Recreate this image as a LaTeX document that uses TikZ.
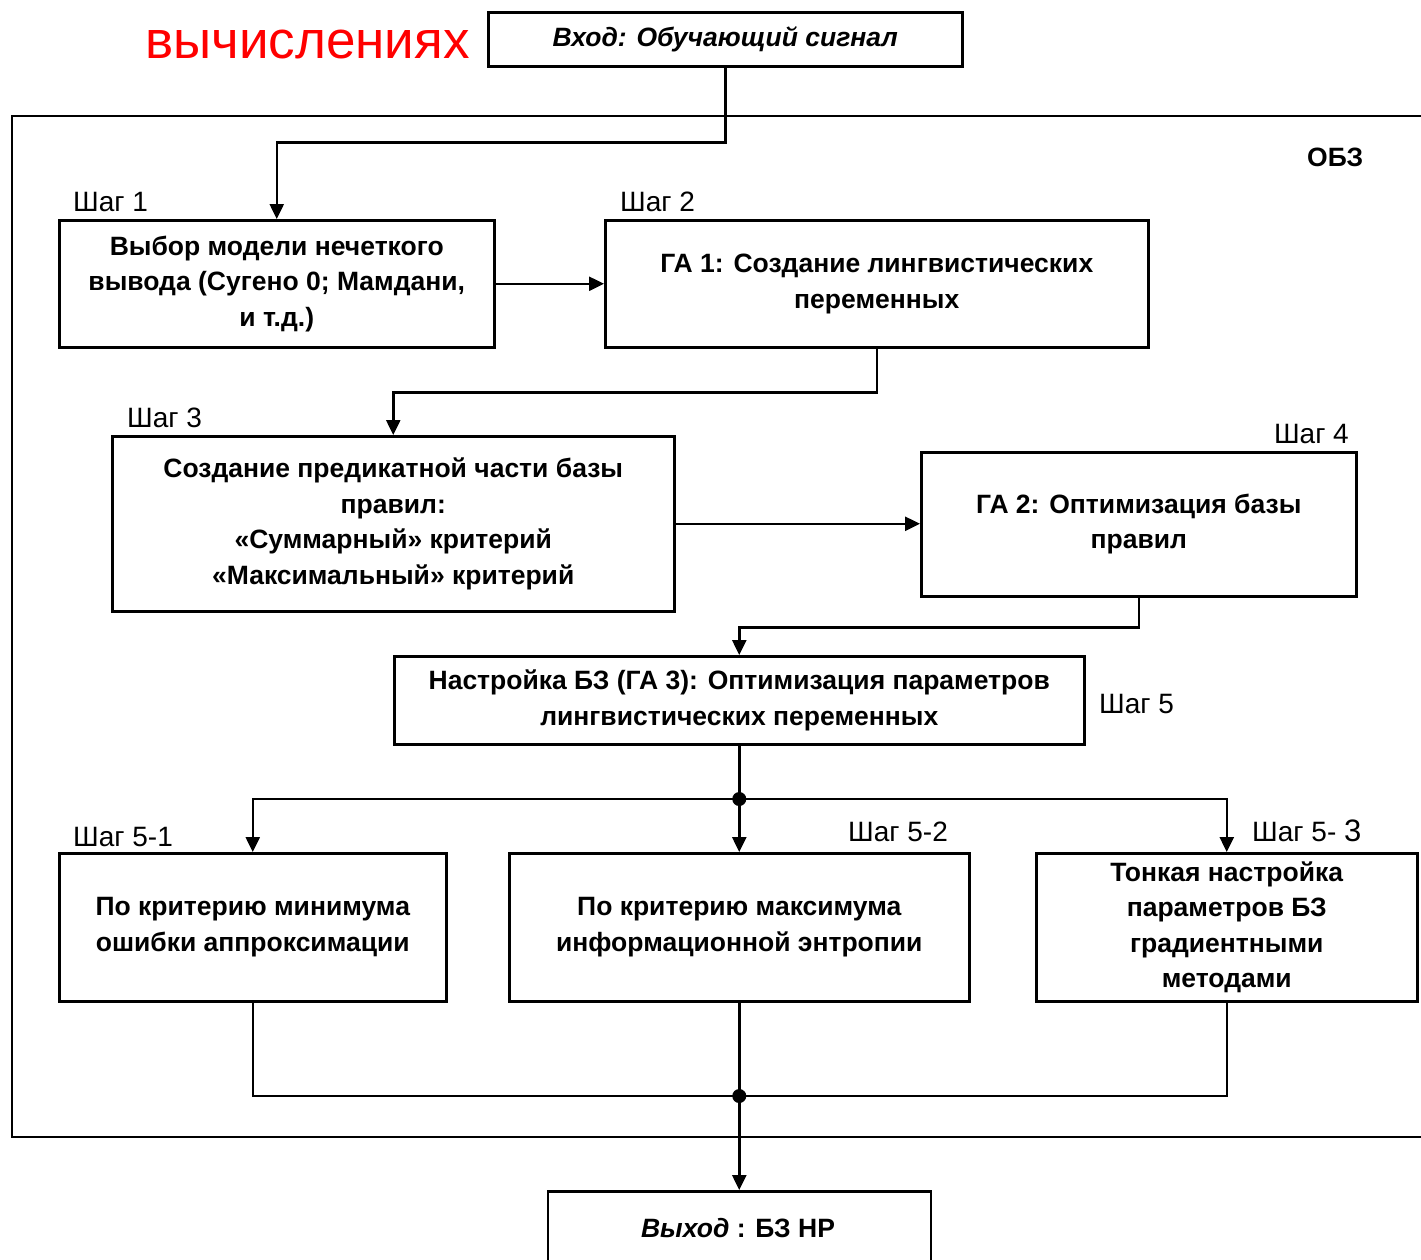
\documentclass[tikz,border=0pt]{standalone}
\usepackage{fontspec}
\setmainfont{Liberation Sans}
\newfontfamily\redfont{Liberation Sans}
\usetikzlibrary{arrows.meta}
\begin{document}
\begin{tikzpicture}[x=1pt,y=-1pt,
  box/.style={draw, line width=2.5pt, inner sep=0pt, align=center, anchor=north west,
    font=\bfseries\fontsize{26.5}{35.5}\selectfont},
  steplbl/.style={inner sep=0pt, font=\fontsize{28}{30}\selectfont},
  conn/.style={line width=2.5pt},
  arr/.style={line width=2.5pt, -{Triangle[length=15pt,width=14pt]}},
  dot/.style={fill=black}]
\useasboundingbox (0,0) rectangle (1421,1259);
\clip (0,0) rectangle (1421,1259);
% red title fragment
\node[anchor=base west, inner sep=0pt, text=red, font=\redfont\fontsize{53}{60}\selectfont] (title) at (145,58) {вычислениях};
% outer OBZ frame
\draw[line width=2.5pt] (1430,116) -- (12,116) -- (12,1137) -- (1430,1137);
\node[anchor=base west, inner sep=0pt, font=\bfseries\fontsize{26.5}{30}\selectfont] (obz) at (1307,166) {ОБЗ};
% input
\node[box, minimum width=474pt, minimum height=54pt] (in) at (487,11) {\itshape Вход: Обучающий сигнал};
% boxes
\node[box, minimum width=435pt, minimum height=127pt] (b1) at (58,219) {Выбор модели нечеткого\\вывода (Сугено 0; Мамдани,\\и т.д.)};
\node[box, minimum width=543pt, minimum height=127pt] (b2) at (604,219) {ГА 1: Создание лингвистических\\переменных};
\node[box, minimum width=562pt, minimum height=175pt] (b3) at (111,435) {Создание предикатной части базы\\правил:\\«Суммарный» критерий\\«Максимальный» критерий};
\node[box, minimum width=435pt, minimum height=144pt] (b4) at (920,451) {ГА 2: Оптимизация базы\\правил};
\node[box, minimum width=690pt, minimum height=88pt] (b5) at (393,655) {Настройка БЗ (ГА 3): Оптимизация параметров\\лингвистических переменных};
\node[box, minimum width=387pt, minimum height=148pt] (b51) at (58,852) {По критерию минимума\\ошибки аппроксимации};
\node[box, minimum width=460pt, minimum height=148pt] (b52) at (508,852) {По критерию максимума\\информационной энтропии};
\node[box, minimum width=381pt, minimum height=148pt] (b53) at (1035,852) {Тонкая настройка\\параметров БЗ\\градиентными\\методами};
\node[box, minimum width=383pt, minimum height=120pt] (out) at (546.5,1190) {};
\node[inner sep=0pt, anchor=base, font=\bfseries\fontsize{26.5}{30}\selectfont] (outtxt) at (738,1237) {\itshape Выход\upshape\ : БЗ НР};
% step labels
\node[steplbl, anchor=base west] (s1) at (73,211) {Шаг 1};
\node[steplbl, anchor=base west] (s2) at (620,211) {Шаг 2};
\node[steplbl, anchor=base west] (s3) at (127,427) {Шаг 3};
\node[steplbl, anchor=base east] (s4) at (1349,443) {Шаг 4};
\node[steplbl, anchor=base west] (s5) at (1099,713) {Шаг 5};
\node[steplbl, anchor=base west] (s51) at (73,846) {Шаг 5-1};
\node[steplbl, anchor=base west] (s52) at (848,841) {Шаг 5-2};
\node[steplbl, anchor=base west] (s53) at (1252,841) {Шаг 5- {\fontsize{31}{32}\selectfont 3}};
% connectors
\draw[arr] (in.south) -- ++(0,75) -| (b1.north);
\draw[arr] (b1.east) -- (b2.west);
\draw[arr] (b2.south) -- ++(0,44) -| (b3.north);
\draw[arr] (b3.east) -- (b4.west |- b3.east);
\draw[arr] (b4.south) -- ++(0,30) -| (b5.north);
\coordinate (split) at (b5.south |- 0,799);
\coordinate (merge) at (b5.south |- 0,1096);
\draw[conn] (b5.south) -- (split);
\draw[arr] (split) -- (b52.north);
\draw[arr] (split) -| (b51.north);
\draw[arr] (split) -| (b53.north);
\fill[dot] (split) circle (7);
\draw[conn] (b51.south) |- (merge);
\draw[conn] (b53.south) |- (merge);
\draw[conn] (b52.south) -- (merge);
\fill[dot] (merge) circle (7);
\draw[arr] (merge) -- (out.north);
\end{tikzpicture}
\end{document}
